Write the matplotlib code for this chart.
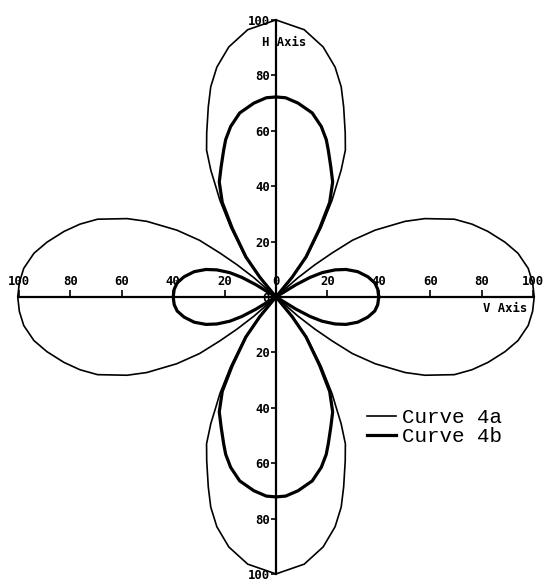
import numpy as np
import matplotlib.pyplot as plt

# pattern readings for one quadrant (angle in degrees from V axis, radius)
ang_4a = [0, 3, 6, 9.5, 12.5, 16, 19, 22, 26, 28.5, 32, 34.5, 36, 37.5, 39, 40.5,
          46, 48.5, 50.5, 55, 58, 59.5, 61, 63, 65.5, 69, 71.5, 74.5, 78.5, 83.5, 90]
rad_4a = [100.5, 100, 98.7, 95.5, 91.3, 85.8, 80.7, 74.9, 64.5, 57.2, 45.5, 36.1, 27, 19, 11, 0,
          0, 9, 18.8, 30.8, 41.2, 46, 52.3, 59.5, 65, 73.5, 80, 86.1, 92.1, 97.1, 100]

ang_4b = [0, 4, 7.5, 11.5, 16, 20, 23, 26, 28, 29.5, 30.5,
          46.5, 48.5, 51, 55.5, 58.5, 62, 65.5, 69, 71, 74, 78, 83, 87, 90]
rad_4b = [40, 39.7, 38.8, 36.5, 33.1, 29, 25, 20, 15, 9, 0,
          0, 9.5, 18.6, 30, 40, 47, 51.5, 56.8, 60.1, 64, 67.9, 70.5, 72, 72.2]

xticks = [-100, -80, -60, -40, -20, 0, 20, 40, 60, 80, 100]
yticks = [-100, -80, -60, -40, -20, 0, 20, 40, 60, 80, 100]


def full_pattern(ang, rad):
    # mirror the quadrant into all four quadrants
    a = np.asarray(ang, float)
    r = np.asarray(rad, float)
    th = np.concatenate([a, 180 - a[::-1], 180 + a, 360 - a[::-1]])
    rr = np.concatenate([r, r[::-1], r, r[::-1]])
    t = np.deg2rad(th)
    return rr * np.cos(t), rr * np.sin(t)


plt.rcParams['font.family'] = 'DejaVu Sans Mono'
plt.rcParams['font.weight'] = 'bold'

fig = plt.figure(figsize=(5.45, 5.85), dpi=100)
ax = fig.add_axes([0, 0, 1, 1])
ax.set_xlim(-107.4, 104.7)
ax.set_ylim(-104, 107.2)

x4a, y4a = full_pattern(ang_4a, rad_4a)
x4b, y4b = full_pattern(ang_4b, rad_4b)
ax.plot(x4a, y4a, color='k', lw=1.2, label='Curve 4a')
ax.plot(x4b, y4b, color='k', lw=2.3, label='Curve 4b')

# axes crossing at the origin
ax.spines['right'].set_visible(False)
ax.spines['bottom'].set_visible(False)
ax.spines['top'].set_position(('data', 0))
ax.spines['left'].set_position(('data', 0))
ax.spines['top'].set_bounds(min(xticks), max(xticks))
ax.spines['left'].set_bounds(min(yticks), max(yticks))
ax.spines['top'].set_linewidth(1.6)
ax.spines['left'].set_linewidth(1.6)

ax.xaxis.set_ticks_position('top')
ax.set_xticks(xticks)
ax.set_xticklabels([str(abs(v)) for v in xticks])
ax.tick_params(axis='x', direction='out', length=5, width=1.2, pad=1.5, labelsize=8.8)

ax.yaxis.set_ticks_position('left')
ax.set_yticks(yticks)
ax.set_yticklabels([str(abs(v)) for v in yticks])
ax.tick_params(axis='y', direction='out', length=3.5, width=1.2, pad=1, labelsize=8.8)

ax.text(3.3, 91.7, 'H Axis', ha='center', va='center', fontsize=8.8, fontweight='bold')
ax.text(89.3, -4, 'V Axis', ha='center', va='center', fontsize=8.8, fontweight='bold')

ax.legend(loc='upper left', bbox_to_anchor=(0.673, 0.302), frameon=False,
          prop={'family': 'Liberation Mono', 'size': 15, 'weight': 'normal'},
          handlelength=1.4, handletextpad=0.3, labelspacing=0.0,
          borderpad=0, borderaxespad=0)

fig.savefig('out.png', dpi=100)
